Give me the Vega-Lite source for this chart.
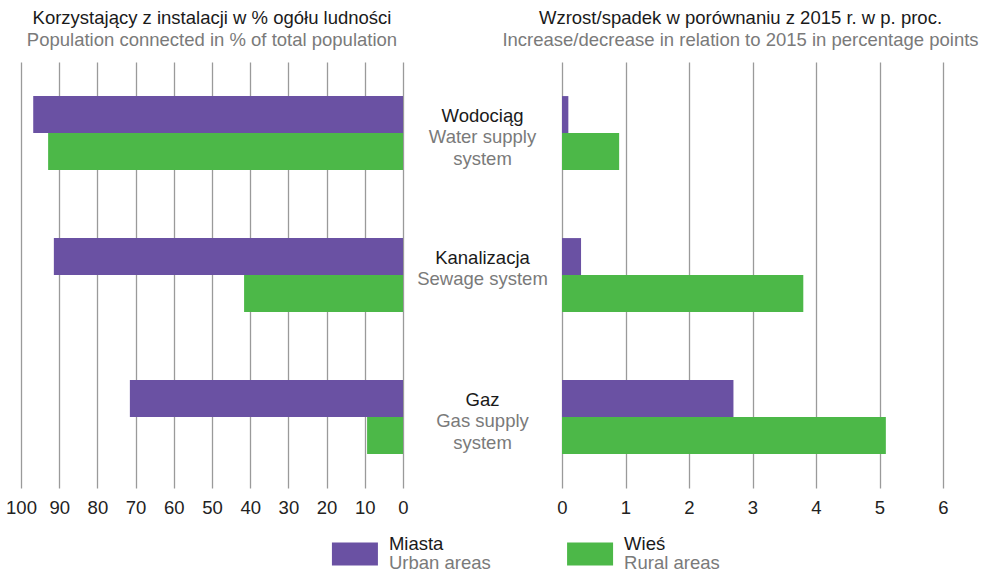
{
  "$schema": "https://vega.github.io/schema/vega-lite/v6.json",
  "padding": {"left": 5, "top": 9, "right": 5, "bottom": 3},
  "background": "white",
  "config": {
    "font": "Liberation Sans",
    "view": {"stroke": null},
    "axis": {"labelFontSize": 18.5, "labelColor": "#222222", "gridColor": "#9a9a9a", "gridWidth": 1.3, "gridOpacity": 1, "labelFlush": false, "labelOverlap": false},
    "title": {"fontSize": 18.5, "fontWeight": "normal", "color": "#1a1a1a", "subtitleFontSize": 18.5, "subtitleColor": "#7a7a7a", "subtitlePadding": 3, "offset": 13, "anchor": "middle"}
  },
  "datasets": {
    "main": [
      {"cat": "Wodociąg", "series": "Miasta", "share": 96.8, "change": 0.1},
      {"cat": "Wodociąg", "series": "Wieś", "share": 92.9, "change": 0.9},
      {"cat": "Kanalizacja", "series": "Miasta", "share": 91.4, "change": 0.3},
      {"cat": "Kanalizacja", "series": "Wieś", "share": 41.6, "change": 3.8},
      {"cat": "Gaz", "series": "Miasta", "share": 71.5, "change": 2.7},
      {"cat": "Gaz", "series": "Wieś", "share": 9.4, "change": 5.1}
    ],
    "labels": [
      {"cat": "Wodociąg", "pl": "Wodociąg", "en": ["Water supply", "system"]},
      {"cat": "Kanalizacja", "pl": "Kanalizacja", "en": ["Sewage system"]},
      {"cat": "Gaz", "pl": "Gaz", "en": ["Gas supply", "system"]}
    ],
    "legend": [
      {"series": "Miasta", "pl": "Miasta", "en": "Urban areas"},
      {"series": "Wieś", "pl": "Wieś", "en": "Rural areas"}
    ]
  },
  "vconcat": [
    {
      "bounds": "flush",
      "hconcat": [
        {
          "width": 382,
          "height": 426,
          "data": {"name": "main"},
          "title": {"text": "Korzystający z instalacji w % ogółu ludności", "subtitle": "Population connected in % of total population"},
          "mark": {"type": "bar"},
          "encoding": {
            "y": {"field": "cat", "type": "nominal", "sort": ["Wodociąg", "Kanalizacja", "Gaz"], "axis": null, "scale": {"paddingInner": 0.48, "paddingOuter": 0.24}},
            "yOffset": {"field": "series", "type": "nominal", "sort": ["Miasta", "Wieś"], "scale": {"paddingInner": 0, "paddingOuter": 0}},
            "x": {"field": "share", "type": "quantitative", "scale": {"domain": [0, 100], "reverse": true, "nice": false}, "axis": {"values": [0, 10, 20, 30, 40, 50, 60, 70, 80, 90, 100], "grid": true, "ticks": false, "domain": false, "title": null, "labelPadding": 10}},
            "color": {"field": "series", "type": "nominal", "scale": {"domain": ["Miasta", "Wieś"], "range": ["#6a51a3", "#4cb848"]}, "legend": null}
          }
        },
        {
          "width": 159,
          "height": 426,
          "data": {"name": "labels"},
          "encoding": {
            "y": {"field": "cat", "type": "nominal", "sort": ["Wodociąg", "Kanalizacja", "Gaz"], "axis": null, "scale": {"paddingInner": 0.48, "paddingOuter": 0.24}}
          },
          "layer": [
            {"mark": {"type": "text", "fontSize": 18.5, "color": "#1a1a1a", "baseline": "middle", "dy": -17}, "encoding": {"text": {"field": "pl"}}},
            {"mark": {"type": "text", "fontSize": 18.5, "color": "#7a7a7a", "baseline": "middle", "lineHeight": 21.5, "dy": 4}, "encoding": {"text": {"field": "en"}}}
          ]
        },
        {
          "width": 381,
          "height": 426,
          "data": {"name": "main"},
          "title": {"text": "Wzrost/spadek w porównaniu z 2015 r. w p. proc.", "subtitle": "Increase/decrease in relation to 2015 in percentage points", "dx": -12},
          "mark": {"type": "bar"},
          "encoding": {
            "y": {"field": "cat", "type": "nominal", "sort": ["Wodociąg", "Kanalizacja", "Gaz"], "axis": null, "scale": {"paddingInner": 0.48, "paddingOuter": 0.24}},
            "yOffset": {"field": "series", "type": "nominal", "sort": ["Miasta", "Wieś"], "scale": {"paddingInner": 0, "paddingOuter": 0}},
            "x": {"field": "change", "type": "quantitative", "scale": {"domain": [0, 6], "nice": false}, "axis": {"values": [0, 1, 2, 3, 4, 5, 6], "grid": true, "ticks": false, "domain": false, "title": null, "labelPadding": 10}},
            "color": {"field": "series", "type": "nominal", "scale": {"domain": ["Miasta", "Wieś"], "range": ["#6a51a3", "#4cb848"]}, "legend": null}
          }
        }
      ],
      "spacing": 0,
      "resolve": {"scale": {"x": "independent", "y": "independent", "yOffset": "independent"}}
    },
    {
      "width": 903,
      "height": 26,
      "data": {"name": "legend"},
      "encoding": {
        "x": {"field": "series", "type": "nominal", "sort": ["Miasta", "Wieś"], "scale": {"type": "band", "paddingInner": 0, "paddingOuter": 0.92}, "axis": null}
      },
      "layer": [
        {"mark": {"type": "point", "shape": "M-1,-0.5H1V0.5H-1Z", "size": 2116, "filled": true, "opacity": 1}, "encoding": {"color": {"field": "series", "type": "nominal", "scale": {"domain": ["Miasta", "Wieś"], "range": ["#6a51a3", "#4cb848"]}, "legend": null}}},
        {"mark": {"type": "text", "align": "left", "baseline": "middle", "dx": 34, "dy": -10, "fontSize": 18.5, "color": "#1a1a1a"}, "encoding": {"text": {"field": "pl"}}},
        {"mark": {"type": "text", "align": "left", "baseline": "middle", "dx": 34, "dy": 9, "fontSize": 18.5, "color": "#7a7a7a"}, "encoding": {"text": {"field": "en"}}}
      ]
    }
  ],
  "spacing": 18,
  "resolve": {"scale": {"x": "independent"}}
}
